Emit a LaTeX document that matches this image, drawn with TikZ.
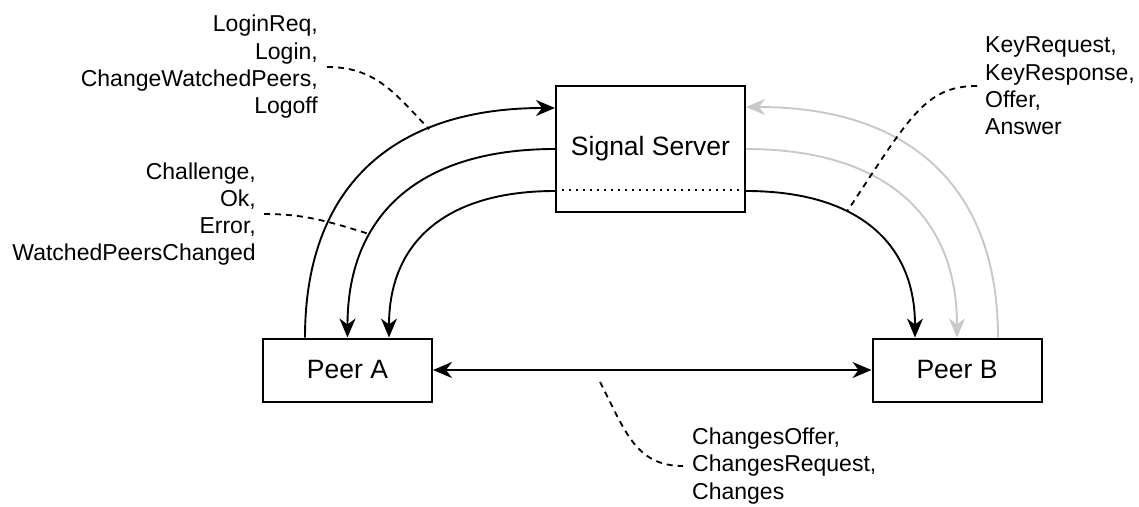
\documentclass[tikz,border=0pt]{standalone}
\usepackage{fontspec}
\setmainfont{Liberation Sans}
\usetikzlibrary{arrows.meta,calc}
\definecolor{lgray}{RGB}{200,200,200}
\begin{document}
\begin{tikzpicture}[x=1pt,y=-1pt,
  box/.style={draw,line width=2pt,inner sep=0pt,font=\fontsize{26.5}{31}\selectfont},
  lbl/.style={inner sep=0pt,font=\fontsize{23}{27.3}\selectfont},
  tip/.tip={Stealth[length=19pt,width=16pt,inset=6pt]},
  flow/.style={line width=1.9pt,-tip},
  flowg/.style={line width=1.9pt,draw=lgray,-tip},
  both/.style={line width=1.9pt,tip-tip},
  dsh/.style={line width=1.8pt,dash pattern=on 6pt off 5pt},
  dots/.style={line width=2pt,dash pattern=on 2pt off 5pt}
]
\useasboundingbox (0,0) rectangle (1139,506);

% nodes
\node[box,minimum width=189pt,minimum height=126pt] (srv) at (650.5,149) {Signal Server};
\node[box,minimum width=169pt,minimum height=63pt] (pa) at (347.5,370) {Peer A};
\node[box,minimum width=169pt,minimum height=63pt] (pb) at (957,370) {Peer B};

\draw[dots] ([yshift=-41pt]srv.west) -- ([yshift=-41pt]srv.east);

% labels
\node[lbl,anchor=east,align=right] (l1) at (318,67) {LoginReq,\\Login,\\ChangeWatchedPeers,\\Logoff};
\node[lbl,anchor=east,align=right] (l2) at (256,214) {Challenge,\\Ok,\\Error,\\WatchedPeersChanged};
\node[lbl,anchor=west,align=left] (l3) at (985,86) {KeyRequest,\\KeyResponse,\\Offer,\\Answer};
\node[lbl,anchor=west,align=left] (l4) at (692,466) {ChangesOffer,\\ChangesRequest,\\Changes};

% left arcs
\draw[flow] ([xshift=-42.5pt]pa.north) .. controls +(0,-150) and +(-163,0) .. ([yshift=41pt]srv.west) coordinate[pos=0.70] (p1);
\draw[flow] (srv.west) .. controls +(-135,0) and +(0,-123.5) .. (pa.north) coordinate[pos=0.67] (p2);
\draw[flow] ([yshift=-42pt]srv.west) .. controls +(-108.5,0) and +(0,-96) .. ([xshift=41.5pt]pa.north);

% right arcs
\draw[flow] ([yshift=-42pt]srv.east) .. controls +(110.5,0) and +(0,-95.5) .. ([xshift=-42pt]pb.north) coordinate[pos=0.37] (p3);
\draw[flowg] (srv.east) .. controls +(138,0) and +(0,-122.5) .. (pb.north);
\draw[flowg] ([xshift=41pt]pb.north) .. controls +(0,-150) and +(164.5,0) .. ([yshift=42pt]srv.east);

% peer to peer
\draw[both] (pa.east) -- (pb.west);
\coordinate (c4) at (600,382);

% dashed leaders
\draw[dsh] ([xshift=9pt]l1.east) .. controls +(48,0) and +(-35,-37) .. (p1);
\draw[dsh] ([xshift=8pt]l2.east) .. controls +(37,0) and +(-47,-15) .. (p2);
\draw[dsh] ([xshift=-8pt]l3.west) .. controls +(-52,0) and +(63,-95) .. (p3);
\draw[dsh] (c4) .. controls +(25,48) and +(-48,0) .. ([xshift=-9pt]l4.west);
\end{tikzpicture}
\end{document}
